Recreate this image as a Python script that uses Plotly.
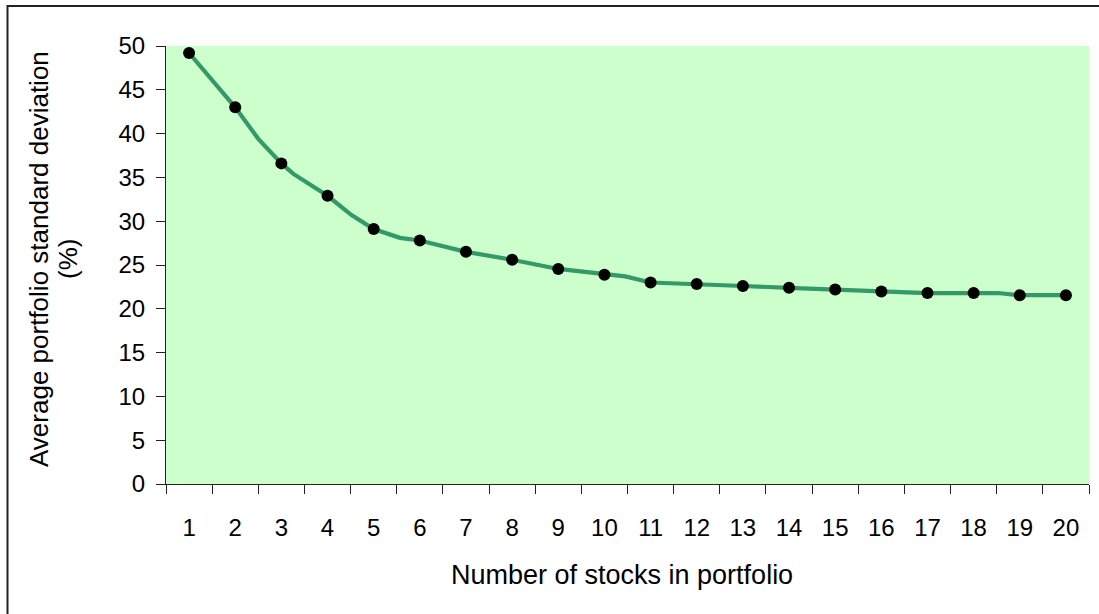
import plotly.graph_objects as go

# Data
stocks = list(range(1, 21))
avg_sd = [49.2, 43.0, 36.6, 32.9, 29.1, 27.8, 26.5, 25.6, 24.55, 23.9,
          23.0, 22.84, 22.6, 22.4, 22.2, 21.97, 21.8, 21.8, 21.55, 21.55]

# Line trace as drawn (includes visible bends between markers)
line_x = [1, 2, 2.5, 3, 3.26, 4, 4.52, 5, 5.57, 6, 7, 8, 9, 10, 10.45, 11,
          12, 13, 14, 15, 16, 17, 18, 18.53, 19, 20]
line_y = [49.2, 43.0, 39.4, 36.6, 35.4, 32.9, 30.7, 29.1, 28.1, 27.8, 26.5, 25.6,
          24.55, 23.9, 23.7, 23.0, 22.84, 22.6, 22.4, 22.2, 21.97, 21.8, 21.8,
          21.8, 21.55, 21.55]

y_ticks = list(range(0, 55, 5))
x_title = "Number of stocks in portfolio"
y_title_lines = ["Average portfolio standard deviation", "(%)"]

FONT = "Liberation Sans, Arial, sans-serif"
W, H = 1099, 614
L, R, T, B = 166, 10, 46, 130
pw, ph = W - L - R, H - T - B

def px(xp):
    return (xp - L) / pw

def py(yp):
    return (H - B - yp) / ph

fig = go.Figure()
fig.add_trace(go.Scatter(x=line_x, y=line_y, mode="lines",
                         line=dict(color="#339966", width=4.2), hoverinfo="skip"))
fig.add_trace(go.Scatter(x=stocks, y=avg_sd, mode="markers",
                         marker=dict(color="black", size=12)))

annotations = [
    dict(text=t, xref="paper", yref="paper", x=px(xc), y=py(259),
         textangle=-90, showarrow=False, xanchor="center", yanchor="middle",
         font=dict(size=26, family=FONT, color="black"))
    for t, xc in zip(y_title_lines, [39, 68])
]
annotations.append(
    dict(text=x_title, xref="paper", yref="paper", x=px(621.5), y=py(575),
         showarrow=False, xanchor="center", yanchor="middle",
         font=dict(size=27, family=FONT, color="black")))

fig.update_layout(
    width=W, height=H, autosize=False,
    margin=dict(l=L, r=R, t=T, b=B, pad=0),
    paper_bgcolor="white", plot_bgcolor="#CCFFCC",
    showlegend=False,
    font=dict(family=FONT, color="black", size=24),
    xaxis=dict(range=[0.5, 20.5], tickmode="array", tickvals=stocks,
               ticktext=[str(s) for s in stocks], ticks="", showgrid=False,
               zeroline=False, showline=True, linecolor="#222", linewidth=1,
               ticklabelstandoff=22, tickfont=dict(size=24),
               minor=dict(tickmode="array", tickvals=[s - 0.5 for s in stocks] + [20.5],
                          ticks="outside", ticklen=9, tickcolor="#222", tickwidth=1,
                          showgrid=False)),
    yaxis=dict(range=[0, 50], tickmode="array", tickvals=y_ticks, ticks="outside",
               ticklen=9, tickcolor="#222", tickwidth=1, showgrid=False,
               zeroline=False, showline=True, linecolor="#222", linewidth=1,
               ticklabelstandoff=6, tickfont=dict(size=24)),
    shapes=[dict(type="rect", xref="paper", yref="paper",
                 x0=px(7.5), x1=px(1110), y0=py(625), y1=py(6),
                 line=dict(color="#222", width=2), fillcolor="rgba(0,0,0,0)",
                 layer="below")],
    annotations=annotations,
)

fig.write_html("out.html", config={"displayModeBar": False},
               post_script="document.body.style.margin='0';document.body.style.overflow='hidden';")
